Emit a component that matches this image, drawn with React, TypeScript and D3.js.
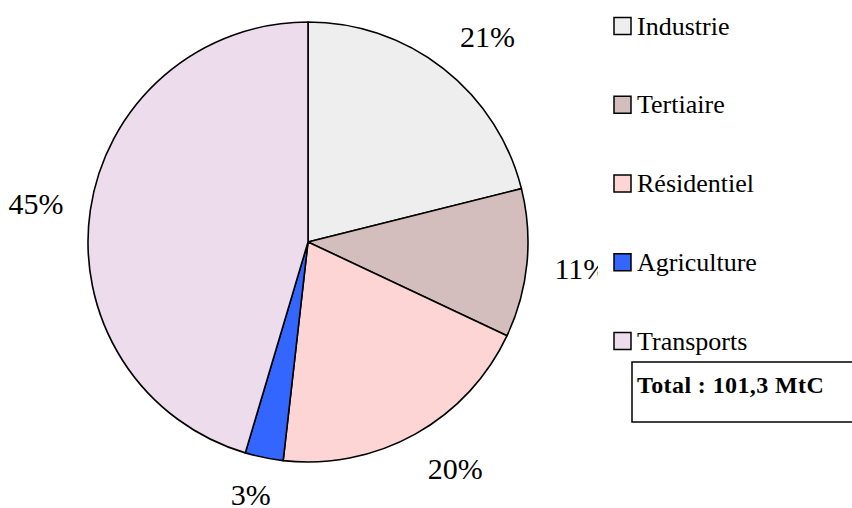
import React from "react";
import * as d3 from "d3";

const categories = ["Industrie", "Tertiaire", "Résidentiel", "Agriculture", "Transports"];
const values = [21.1, 10.9, 19.8, 2.8, 45.4];
const colors = ["#eeeeee", "#d3bdbd", "#fed5d5", "#3366ff", "#eddcec"];
const totalLabel = "Total : 101,3 MtC";

const W = 852;
const H = 508;
const cx = 308;
const cy = 242;
const r = 220;
const anchorR = 247;
const labelSize = 30;

export default function App() {
  const pie = d3.pie<number>().sort(null).value((d) => d)(values);
  const arc = d3.arc<d3.PieArcDatum<number>>().innerRadius(0).outerRadius(r);
  const total = d3.sum(values);
  const fmt = (v: number) => `${Math.round((v / total) * 100)}%`;
  const clamp = (v: number) => Math.max(-1, Math.min(1, v));

  const legendY = d3.scalePoint<string>().domain(categories).range([26, 341]);

  return (
    <svg
      width={W}
      height={H}
      style={{ position: "absolute", left: 0, top: 0, background: "#fff" }}
      fontFamily="'Liberation Serif', 'Times New Roman', serif"
    >
      <g transform={`translate(${cx},${cy})`}>
        {pie.map((d, i) => (
          <path key={i} d={arc(d) || ""} fill={colors[i]} stroke="#000" strokeWidth={1.6} strokeLinejoin="round" />
        ))}
        {pie.map((d, i) => {
          const a = (d.startAngle + d.endAngle) / 2;
          const label = fmt(d.data);
          const w = labelSize * (0.5 * (label.length - 1) + 0.833);
          const h = labelSize * 0.7;
          const px = Math.sin(a) * anchorR;
          const py = -Math.cos(a) * anchorR;
          const x = px + (w / 2) * clamp(Math.sin(a) * 2);
          const y = py - (h / 2) * clamp(Math.cos(a) * 2);
          return (
            <text key={i} x={x} y={y} textAnchor="middle" dominantBaseline="central" fontSize={labelSize} fill="#000">
              {label}
            </text>
          );
        })}
      </g>
      <rect x={598} y={0} width={W - 598} height={356} fill="#fff" />
      {categories.map((c, i) => {
        const y = legendY(c) as number;
        return (
          <g key={c}>
            <rect x={614} y={y - 8.5} width={17} height={17} fill={colors[i]} stroke="#000" strokeWidth={1.5} />
            <text x={637} y={y} dominantBaseline="central" fontSize={26} fill="#000">
              {c}
            </text>
          </g>
        );
      })}
      <rect x={632} y={362} width={260} height={60} fill="#fff" stroke="#000" strokeWidth={1.5} />
      <text x={637} y={393} fontSize={24} fontWeight="bold" fill="#000" letterSpacing={0.4}>
        {totalLabel}
      </text>
    </svg>
  );
}
